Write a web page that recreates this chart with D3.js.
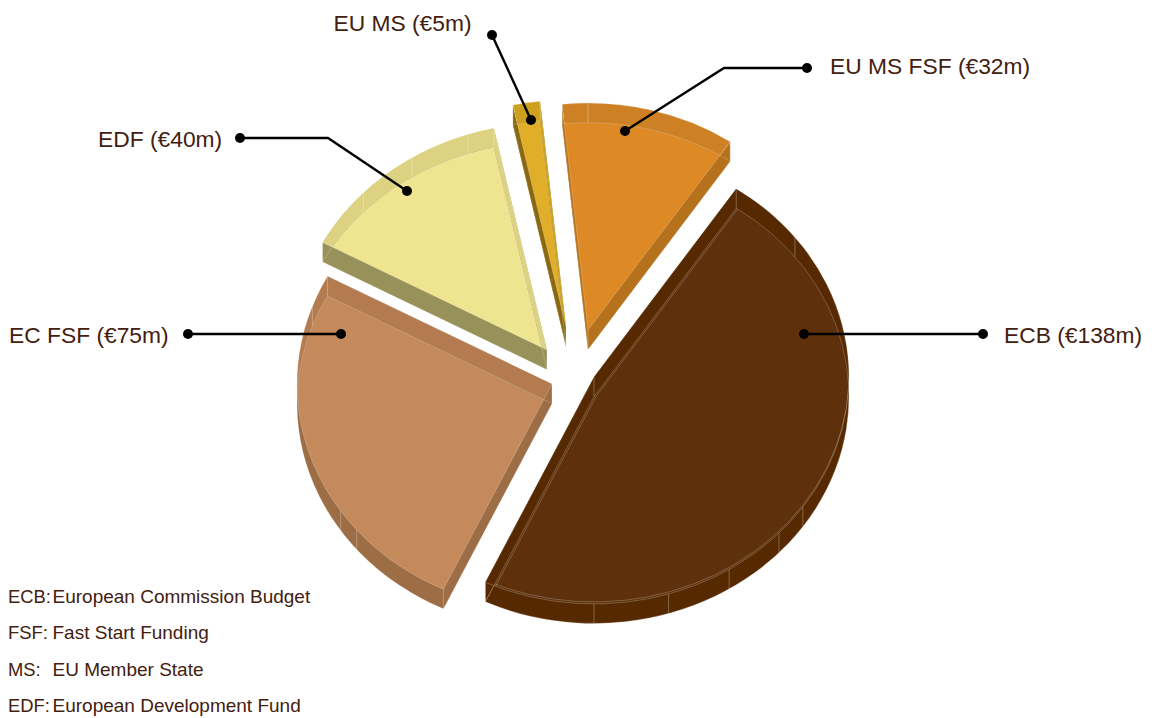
<!DOCTYPE html>
<html lang="en">
<head>
    <meta charset="UTF-8">
    <title>Funding pie</title>
    <style>
        html, body { margin: 0; background: #fff; }
        text { font-family: "Liberation Sans", Arial, sans-serif; fill: #43200f; }
    </style>
</head>
<body>
<script src="https://cdn.jsdelivr.net/npm/d3@7"></script>
<script>
    // data, clockwise from the upper right
    let categories = ["ECB", "EC FSF", "EDF", "EU MS", "EU MS FSF"];
    let values = [138, 75, 40, 5, 32];
    let labels = ["ECB (€138m)", "EC FSF (€75m)", "EDF (€40m)", "EU MS (€5m)", "EU MS FSF (€32m)"];
    let legendKeys = ["ECB:", "FSF:", "MS:", "EDF:"];
    let legendNames = ["European Commission Budget", "Fast Start Funding", "EU Member State", "European Development Fund"];

    // colours per slice
    let faceColors = ["#5e310c", "#c48a5c", "#efe591", "#e1ae2a", "#dc8926"];
    let upperColors = ["#562900", "#b47b50", "#ddd281", "#cda01f", "#cd8024"];
    let lowerColors = ["#562900", "#9d6d45", "#98925a", "#8a6810", "#b5711c"];

    // layout
    let width = 1154;
    let height = 718;
    let radius = 255;
    let squash = 0.89;
    let depth = 19.5;
    let startDeg = 33.9;
    let apex = [[594, 377], [552, 384], [547, 350], [566, 327], [588, 330]];
    let seamDegs = [0, 52, 125, 133.5, 148, 163, 180, 230, 236, 290, 314, 328, 342];
    let leaders = [
        [[804, 334], [983, 334]],
        [[341, 334], [188, 334]],
        [[407, 191], [328, 138], [240, 138]],
        [[531, 120], [492, 35]],
        [[625, 131], [724, 68], [807, 68]]
    ];
    let labelPos = [
        {x: 1004, y: 343}, {x: 9, y: 343}, {x: 98, y: 147}, {x: 333.5, y: 31}, {x: 830, y: 74}
    ];

    let svg = d3.select("body").append("svg")
        .attr("width", width)
        .attr("height", height)
        .style("display", "block");

    let pie = d3.pie()
        .sort(null)
        .startAngle(startDeg * Math.PI / 180)
        .endAngle((startDeg + 360) * Math.PI / 180);
    let arcs = pie(values);
    let arc = d3.arc().innerRadius(0).outerRadius(radius);

    let place = (i, dy, dx = 0) => `translate(${apex[i][0] + dx},${apex[i][1] + dy}) scale(1,${squash})`;
    let rimPoint = (i, angle) => [
        apex[i][0] + radius * Math.sin(angle),
        apex[i][1] - radius * squash * Math.cos(angle)
    ];

    function outline(g, d, i, dy, dx) {
        g.append("path")
            .attr("d", arc(d))
            .attr("transform", place(i, dy, dx))
            .attr("fill", "none")
            .attr("stroke", "#fff")
            .attr("stroke-opacity", 0.28)
            .attr("stroke-width", 0.8)
            .attr("vector-effect", "non-scaling-stroke");
    }

    arcs.forEach((d, i) => {
        let g = svg.append("g");
        let topId = "top" + i;
        let botId = "bot" + i;
        svg.append("clipPath").attr("id", topId)
            .append("path").attr("d", arc(d)).attr("transform", place(i, 0));
        svg.append("clipPath").attr("id", botId)
            .append("path").attr("d", arc(d)).attr("transform", place(i, depth));

        // straight sides between the two copies, they close the corners
        [d.startAngle, d.endAngle].forEach(a => {
            let p = rimPoint(i, a);
            g.append("path")
                .attr("d", d3.line()([p, apex[i], [apex[i][0], apex[i][1] + depth], [p[0], p[1] + depth]]) + "Z")
                .attr("fill", lowerColors[i]);
        });

        // the two copies of the slice, then the part they share
        g.append("path").attr("d", arc(d)).attr("transform", place(i, 0)).attr("fill", upperColors[i]);
        g.append("path").attr("d", arc(d)).attr("transform", place(i, depth)).attr("fill", lowerColors[i]);
        let face = g.append("g").attr("clip-path", `url(#${topId})`)
            .append("g").attr("clip-path", `url(#${botId})`);
        face.append("path").attr("d", arc(d)).attr("transform", place(i, depth)).attr("fill", faceColors[i]);

        // pale outlines of both copies
        outline(g, d, i, 0, 0);
        outline(g, d, i, depth, 0);
        if (i === 0) {
            // the big slice has a second line just inside its face
            outline(face, d, i, -2, 0);
            outline(face, d, i, depth, 2);
        }

        // joins on the rim
        let lo = d.startAngle * 180 / Math.PI;
        let hi = d.endAngle * 180 / Math.PI;
        let seams = seamDegs.concat(seamDegs.map(s => s + 360))
            .filter(s => s > lo && s < hi)
            .concat([lo, hi]);
        seams.forEach(s => {
            let p = rimPoint(i, s * Math.PI / 180);
            g.append("line")
                .attr("x1", p[0]).attr("x2", p[0])
                .attr("y1", p[1]).attr("y2", p[1] + depth)
                .attr("stroke", "#fff")
                .attr("stroke-opacity", 0.28)
                .attr("stroke-width", 1);
        });
        g.append("line")
            .attr("x1", apex[i][0]).attr("x2", apex[i][0])
            .attr("y1", apex[i][1]).attr("y2", apex[i][1] + depth)
            .attr("stroke", "#fff")
            .attr("stroke-opacity", 0.28)
            .attr("stroke-width", 1);
    });

    let line = d3.line();
    leaders.forEach(pts => {
        svg.append("path")
            .attr("d", line(pts))
            .attr("fill", "none")
            .attr("stroke", "#000")
            .attr("stroke-width", 2.4);
        [pts[0], pts[pts.length - 1]].forEach(p => {
            svg.append("circle").attr("cx", p[0]).attr("cy", p[1]).attr("r", 5).attr("fill", "#000");
        });
    });

    svg.selectAll("text.label")
        .data(labels)
        .enter()
        .append("text")
        .attr("class", "label")
        .attr("x", (d, i) => labelPos[i].x)
        .attr("y", (d, i) => labelPos[i].y)
        .attr("font-size", 22.8)
        .text(d => d);

    let legendY = d3.scalePoint().domain(legendKeys).range([603, 712]);
    svg.selectAll("text.key")
        .data(legendKeys)
        .enter()
        .append("text")
        .attr("class", "key")
        .attr("x", 8)
        .attr("y", d => legendY(d))
        .attr("font-size", 18.4)
        .text(d => d);
    svg.selectAll("text.name")
        .data(legendNames)
        .enter()
        .append("text")
        .attr("class", "name")
        .attr("x", 52.5)
        .attr("y", (d, i) => legendY(legendKeys[i]))
        .attr("font-size", 19)
        .text(d => d);
</script>
</body>
</html>
